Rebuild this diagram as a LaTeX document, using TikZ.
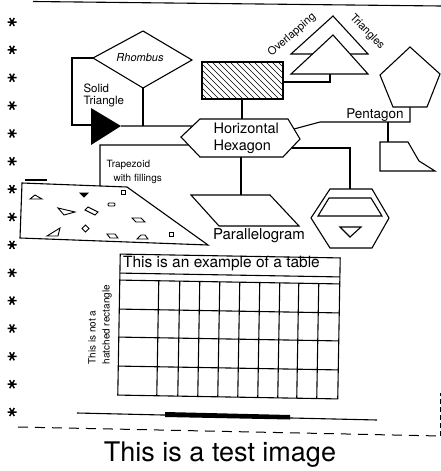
\documentclass[tikz,border=0pt]{standalone}
\usepackage{fontspec}
\setmainfont{TeX Gyre Heros}
\usetikzlibrary{calc}
\begin{document}
\begin{tikzpicture}[x=1pt,y=-1pt,line width=1.1pt,line join=miter,
  shapeline/.style={draw,line width=1.1pt},
  conn/.style={draw,line width=1.1pt},
  lbl/.style={inner sep=0pt,font=\fontsize{13.5}{15}\selectfont},
  small/.style={inner sep=0pt,font=\fontsize{10}{12}\selectfont},
  fillshape/.style={draw,line width=0.9pt},
  hatch/.style={line width=0.5pt},
  dashline/.style={line width=1pt,dash pattern=on 10pt off 7pt}]
\useasboundingbox (0,0) rectangle (441,471);

% top border line
\coordinate (topL) at (33,1.5);
\coordinate (topR) at (441,6);
\draw (topL) -- (topR);

% asterisks
\foreach \k in {0,...,14}{
  \pgfmathsetmacro\yy{22+27.86*\k}
  \draw[line width=1.5pt] (12,\yy) +(-4.5,0) -- +(4.5,0)
        (12,\yy) +(-2.3,-4) -- +(2.3,4)
        (12,\yy) +(2.3,-4) -- +(-2.3,4);
}

% Rhombus
\coordinate (rhT) at (143,31);
\coordinate (rhL) at (93,58);
\coordinate (rhR) at (192,60);
\coordinate (rhB) at (143,88);
\draw[shapeline] (rhT) -- (rhR) -- (rhB) -- (rhL) -- cycle;
\node[lbl,font=\fontsize{11}{13}\selectfont\itshape] (rhtext) at (140,58) {Rhombus};

% Solid triangle
\coordinate (stA) at (91,108);
\coordinate (stTip) at (121,126);
\coordinate (stB) at (91,145);
\coordinate (stbox) at (91,125);
\fill (stA) -- (stTip) -- (stB) -- cycle;
\draw[conn] (rhL) -- ++(-21,0) |- (stbox);
\node[lbl,anchor=west,font=\fontsize{11.5}{13}\selectfont] (solid) at (83,88) {Solid};
\node[lbl,anchor=west,font=\fontsize{11.5}{13}\selectfont] (triangle) at (83,102) {Triangle};

% Horizontal hexagon
\coordinate (hxL) at (181,137);
\coordinate (hxTL) at (200,119);
\coordinate (hxTR) at (288,119);
\coordinate (hxR) at (300,139);
\coordinate (hxBR) at (283,157);
\coordinate (hxBL) at (200,157);
\coordinate (hxB) at (241,157);
\draw[shapeline] (hxL) -- (hxTL) -- (hxTR) -- (hxR) -- (hxBR) -- (hxBL) -- cycle;
\node[lbl,anchor=west,font=\fontsize{14.5}{16}\selectfont] (hor) at (213,128) {Horizontal};
\node[lbl,anchor=west,font=\fontsize{14.5}{16}\selectfont] (hex) at (213,147) {Hexagon};
\draw[conn] (stTip) -- ($(hxL)!0.611!(hxTL)$);
\draw[conn] (rhB) -- (rhB |- stTip);

% Hatched rectangle
\coordinate (hrNW) at (202,62);
\coordinate (hrSE) at (283,99);
\coordinate (hrB) at (242,99);
\coordinate (hrR) at (283,82);
\begin{scope}
  \clip (hrNW) rectangle (hrSE);
  \foreach \x in {150,156,...,290} \draw[hatch] (\x,60) -- ++(42,42);
\end{scope}
\draw[shapeline] (hrNW) rectangle (hrSE);
\draw[conn] (hrB) -- (hrB |- hxTL);

% Overlapping triangles
\coordinate (tuT) at (333,16);
\coordinate (tuL) at (291,54);
\coordinate (tuR) at (368,54);
\coordinate (tlT) at (333,35);
\coordinate (tlL) at (291,74);
\coordinate (tlR) at (368,74);
\coordinate (tlB) at (330,74);
\draw[shapeline] (tuT) -- (tuR) -- (tuL) -- cycle;
\draw[shapeline,fill=white] (tlT) -- (tlR) -- (tlL) -- cycle;
\node[lbl,font=\fontsize{11}{13}\selectfont,rotate=41] (ovl) at (292,35) {Overlapping};
\node[lbl,font=\fontsize{11}{13}\selectfont,rotate=-46] (tris) at (367,32) {Triangles};
\draw[conn] (hrR) -| (tlB);

% Pentagon
\coordinate (pT) at (410,47);
\coordinate (pR) at (440,74);
\coordinate (pBR) at (427,107);
\coordinate (pBL) at (393,107);
\coordinate (pL) at (380,75);
\coordinate (pB) at (410,107);
\coordinate (pU) at (410,122);
\coordinate (pK) at (320,122);
\draw[shapeline] (pT) -- (pR) -- (pBR) -- (pBL) -- (pL) -- cycle;
\node[lbl] (pent) at (375,115) {Pentagon};
\draw[conn] (pB) -- (pU) -- (pK) -- ($(hxTR)!0.5!(hxR)$);

% Irregular shape
\coordinate (irA) at (380,142);
\coordinate (irB) at (408,142);
\coordinate (irC) at (419,161);
\coordinate (irD) at (435,171);
\coordinate (irE) at (380,171);
\coordinate (irT) at (388,142);
\draw[shapeline] (irA) -- (irB) -- (irC) -- (irD) -- (irE) -- cycle;
\draw[conn] (irT |- pU) -- (irT);

% Vertical hexagon with inner shapes
\coordinate (vhTL) at (330,189);
\coordinate (vhTR) at (372,189);
\coordinate (vhR) at (389,218);
\coordinate (vhBR) at (372,248);
\coordinate (vhBL) at (330,248);
\coordinate (vhL) at (311,218);
\coordinate (vhT) at (350,189);
\draw[shapeline] (vhTL) -- (vhTR) -- (vhR) -- (vhBR) -- (vhBL) -- (vhL) -- cycle;
\draw[shapeline] (329,198) -- (371,198) -- (382,216) -- (318,216) -- cycle;
\draw[shapeline] (340,227) -- (361,227) -- (350,237) -- cycle;
\draw[conn] ($(hxR)!0.5!(hxBR)$) -| (vhT);

% Parallelogram
\coordinate (pgA) at (191,195);
\coordinate (pgB) at (270,195);
\coordinate (pgC) at (299,226);
\coordinate (pgD) at (219,226);
\draw[shapeline] (pgA) -- (pgB) -- (pgC) -- (pgD) -- cycle;
\node[lbl,font=\fontsize{15}{17}\selectfont] (para) at (259,236) {Parallelogram};
\draw[conn] (hxB) -- (hxB |- pgA);

% Trapezoid with fillings
\coordinate (tzA) at (22,183);
\coordinate (tzB) at (127,187);
\coordinate (tzC) at (208,245);
\coordinate (tzD) at (20,238);
\coordinate (tzK) at (100,186);
\draw[shapeline] (tzA) -- (tzB) -- (tzC) -- (tzD) -- cycle;
\draw[conn] (25,180) -- (47,180);
\draw[conn] (tzK) -- (tzK |- 0,145) -- ($(hxL)!0.4!(hxBL)$);
\node[small,anchor=west] (trap1) at (106,165) {Trapezoid};
\node[small,anchor=west] (trap2) at (113,179) {with fillings};
\draw[fillshape] (30,199) -- (35,195) -- (42,199) -- cycle;
\draw[fillshape,fill=black] (80,193) -- (88,193) -- (84,197) -- cycle;
\draw[fillshape] (121,190) rectangle (125,194);
\draw[fillshape,rounded corners=1pt] (108,203) rectangle (115,206);
\draw[fillshape] (58,208) -- (75,212) -- (64,215) -- cycle;
\draw[fillshape] (85,210) -- (88,207) -- (98,212) -- (95,215) -- cycle;
\draw[fillshape] (132,218) -- (141,218) -- (145,222) -- (136,222) -- cycle;
\draw[fillshape] (47,236) -- (60,228) -- (58,236) -- cycle;
\draw[fillshape] (85.5,225) -- (89,228.5) -- (85.5,232) -- (82,228.5) -- cycle;
\draw[fillshape] (107,234) -- (115,234) -- (118,238) -- (110,238) -- cycle;
\draw[fillshape] (137,239) -- (141,235) -- (145,235) -- (148,239) -- cycle;
\draw[fillshape] (169,232) rectangle (173,236);

% Table
\begin{scope}[rotate around={-1:(229,326)}]
  \draw[shapeline] (119,256) rectangle (339,397);
  \draw[conn] (119,275) -- (339,275);
  \draw[conn] (119,282) -- (339,282);
  \foreach \r in {311,339,368} \draw[conn] (119,\r) -- (339,\r);
  \foreach \c in {158,179,199,219,239,259,279,298,318} \draw[conn] (\c,282) -- (\c,397);
  \node[lbl,anchor=west,font=\fontsize{15.5}{17}\selectfont] (ttitle) at (121.5,265.5) {This is an example of a table};
\end{scope}
\node[small,anchor=west,rotate=90] (not1) at (92,365) {This is not a};
\node[small,anchor=west,rotate=90] (not2) at (107,365) {hatched rectangle};

% bottom lines
\coordinate (blA) at (77,413);
\coordinate (blB) at (377,420);
\draw[conn] (blA) -- (blB);
\fill (165,412) -- (290,415) -- (290,419.5) -- (165,417) -- cycle;
\coordinate (dA) at (18,427);
\coordinate (dB) at (440.5,436);
\coordinate (dC) at (440.5,393);
\draw[dashline] (dA) -- (dB);
\draw[line width=1pt,dash pattern=on 5pt off 3pt] (dB) -- (dC);

% caption
\node[inner sep=0pt,font=\fontsize{27}{30}\selectfont] (caption) at (220,455) {This is a test image};
\end{tikzpicture}
\end{document}
